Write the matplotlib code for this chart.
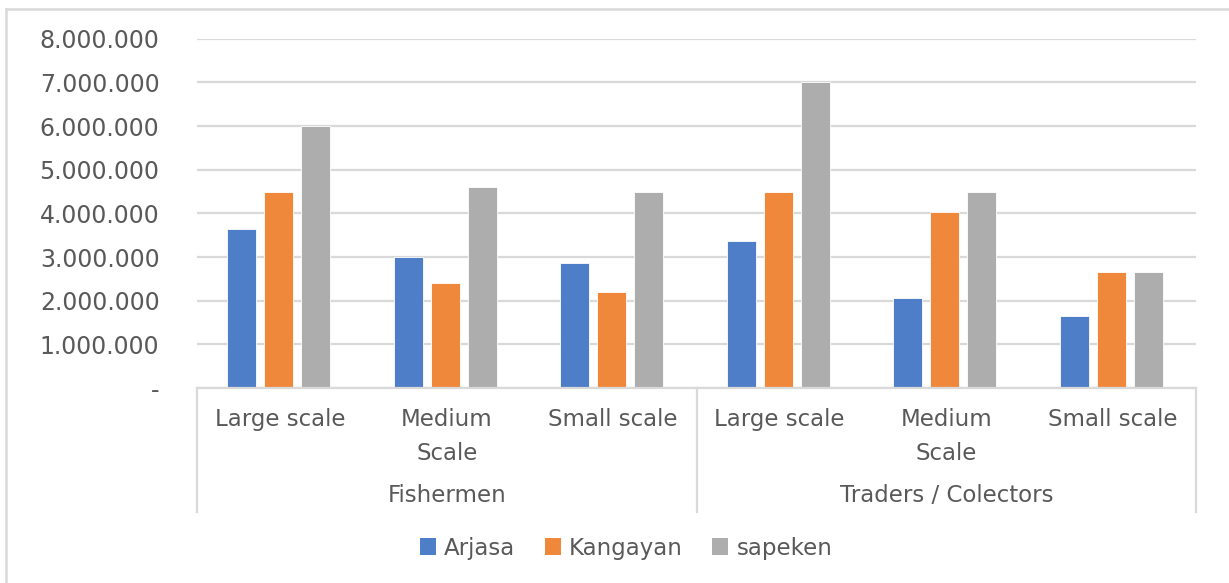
import matplotlib
matplotlib.use("Agg")
import matplotlib.pyplot as plt
from matplotlib.lines import Line2D
from matplotlib.patches import Patch
from matplotlib.ticker import FuncFormatter
import numpy as np

groups = ["Fishermen", "Traders / Colectors"]
scales = ["Large scale", "Medium\nScale", "Small scale"]
series_names = ["Arjasa", "Kangayan", "sapeken"]
arjasa = [3650000, 3000000, 2870000, 3370000, 2070000, 1640000]
kangayan = [4500000, 2400000, 2200000, 4500000, 4040000, 2660000]
sapeken = [6000000, 4600000, 4500000, 7000000, 4500000, 2660000]
yticks = [0, 1000000, 2000000, 3000000, 4000000, 5000000, 6000000, 7000000, 8000000]

colors = ["#4F7EC9", "#EF883B", "#ADADAD"]
text_color = "#595959"
grid_color = "#D9D9D9"

W, H = 1229, 583
fig = plt.figure(figsize=(W / 100, H / 100), dpi=100)
left, right, top, bottom = 197, 1196, 38.7, 388
ax = fig.add_axes([left / W, 1 - bottom / H, (right - left) / W, (bottom - top) / H])

n = len(arjasa)
x = np.arange(n)
bw = 0.174
step = 0.222
for i, (vals, c, name) in enumerate(zip([arjasa, kangayan, sapeken], colors, series_names)):
    ax.bar(x + (i - 1) * step - 0.01, vals, width=bw, color=c, edgecolor="white", linewidth=0.6,
           label=name, zorder=3)

ax.set_xlim(-0.5, n - 0.5)
ax.set_ylim(0, 8000000)
ax.set_yticks(yticks)

def fmt(v, pos):
    if v == 0:
        return "-"
    return f"{int(v):,}".replace(",", ".")

ax.yaxis.set_major_formatter(FuncFormatter(fmt))
ax.tick_params(axis="y", length=0, pad=27, labelsize=17, labelcolor=text_color)
ax.set_xticks([])
ax.grid(axis="y", color=grid_color, linewidth=1.6, zorder=0)
for s in ["top", "right", "left"]:
    ax.spines[s].set_visible(False)
ax.spines["bottom"].set_color(grid_color)
ax.spines["bottom"].set_linewidth(1.6)
ax.spines["bottom"].set_zorder(4)

ah = bottom - top
def ay(ypix):
    return -(ypix - bottom) / ah

trans = ax.get_xaxis_transform()
labels = scales * len(groups)
for xi, lab in zip(x, labels):
    ax.text(xi, ay(408), lab, transform=trans, ha="center", va="top",
            fontsize=16.5, color=text_color, linespacing=1.6, clip_on=False)
for gi, g in enumerate(groups):
    ax.text(gi * 3 + 1, ay(496), g, transform=trans, ha="center", va="center",
            fontsize=16.5, color=text_color, clip_on=False)
for xb in [-0.5, 2.5, 5.5]:
    ax.add_line(Line2D([xb, xb], [0, ay(512)], transform=trans, color=grid_color,
                       linewidth=1.6, clip_on=False))

# chart area border (left and top)
fig.add_artist(Line2D([6 / W, 6 / W], [0, 1 - 9 / H], transform=fig.transFigure,
                      color=grid_color, linewidth=1.8))
fig.add_artist(Line2D([6 / W, 1], [1 - 9 / H, 1 - 9 / H], transform=fig.transFigure,
                      color=grid_color, linewidth=1.8))

handles = [Patch(facecolor=c, edgecolor="none") for c in colors]
leg = fig.legend(handles, series_names, loc="center", bbox_to_anchor=(626 / W, 1 - 548 / H),
                 ncol=3, frameon=False, fontsize=16.5, handlelength=0.7, handleheight=0.7,
                 handletextpad=0.35, columnspacing=1.3)
for t in leg.get_texts():
    t.set_color(text_color)

fig.savefig("out.png", dpi=100, facecolor="white")
